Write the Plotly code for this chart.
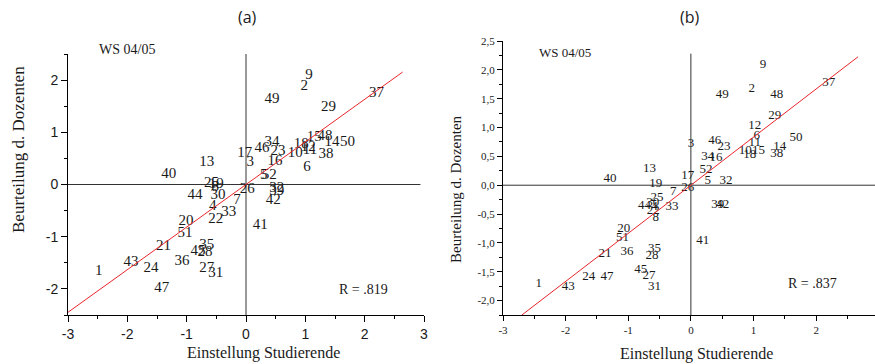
import plotly.graph_objects as go

# ---------------- data ----------------
labels = ["1", "2", "3", "4", "5", "6", "7", "8", "9", "10", "11", "12", "13",
          "14", "15", "16", "17", "18", "19", "20", "21", "22", "23", "24", "25", "26",
          "27", "28", "29", "30", "31", "32", "33", "34", "35", "36", "37", "38", "39",
          "40", "41", "42", "43", "44", "45", "46", "47", "48", "49", "50", "51", "52"]

# panel (a): Einstellung Studierende (x) vs Beurteilung d. Dozenten (y)
xa = [-2.48, 0.98, 0.07, -0.56, 0.30, 1.03, -0.15, -0.52, 1.06, 0.83, 1.08, 1.05, -0.66,
      1.45, 1.15, 0.49, -0.02, 0.93, -0.50, -1.01, -1.39, -0.51, 0.54, -1.60, -0.58, 0.02,
      -0.66, -0.69, 1.39, -0.47, -0.51, 0.52, -0.29, 0.44, -0.66, -1.08, 2.20, 1.35, 0.52,
      -1.30, 0.24, 0.46, -1.94, -0.86, -0.81, 0.27, -1.42, 1.33, 0.44, 1.71, -1.03, 0.39]
ya = [-1.66, 1.89, 0.43, -0.41, 0.18, 0.34, -0.30, -0.06, 2.10, 0.60, 0.66, 0.72, 0.43,
      0.80, 0.91, 0.45, 0.60, 0.78, 0.00, -0.70, -1.18, -0.66, 0.64, -1.60, 0.02, -0.09,
      -1.60, -1.29, 1.48, -0.20, -1.70, -0.08, -0.54, 0.81, -1.16, -1.47, 1.75, 0.58, -0.12,
      0.20, -0.79, -0.31, -1.49, -0.20, -1.27, 0.70, -1.98, 0.93, 1.64, 0.81, -0.93, 0.17]

# panel (b)
xb = [-2.43, 0.97, 0.00, -0.58, 0.27, 1.05, -0.28, -0.56, 1.15, 0.87, 1.02, 1.02, -0.66,
      1.42, 1.08, 0.40, -0.05, 0.94, -0.56, -1.07, -1.37, -0.60, 0.53, -1.63, -0.54, -0.05,
      -0.67, -0.62, 1.34, -0.61, -0.58, 0.56, -0.30, 0.27, -0.58, -1.02, 2.20, 1.37, 0.43,
      -1.29, 0.19, 0.51, -1.96, -0.74, -0.80, 0.38, -1.34, 1.37, 0.50, 1.68, -1.09, 0.24]
yb = [-1.71, 1.67, 0.72, -0.38, 0.08, 0.86, -0.12, -0.56, 2.09, 0.60, 0.74, 1.03, 0.28,
      0.67, 0.59, 0.48, 0.16, 0.52, 0.03, -0.76, -1.19, -0.45, 0.66, -1.59, -0.21, -0.04,
      -1.57, -1.22, 1.21, -0.31, -1.76, 0.07, -0.38, 0.50, -1.10, -1.16, 1.78, 0.54, -0.34,
      0.12, -0.96, -0.34, -1.76, -0.36, -1.47, 0.77, -1.59, 1.57, 1.57, 0.83, -0.91, 0.26]

# regression lines
slope_a = 0.816
slope_b = 0.834
fit_x_a = [-3.0, 2.64]
fit_x_b = [-2.70, 2.67]

r_text_a = "R = .819"
r_text_b = "R = .837"
semester = "WS 04/05"

# tick labels
xtick_a = [-3, -2, -1, 0, 1, 2, 3]
xtick_a_text = ["-3", "-2", "-1", "0", "1", "2", "3"]
ytick_a = [-2, -1, 0, 1, 2]
ytick_a_text = ["-2", "-1", "0", "1", "2"]
xtick_b = [-3, -2, -1, 0, 1, 2]
xtick_b_text = ["-3", "-2", "-1", "0", "1", "2"]
ytick_b = [-2.0, -1.5, -1.0, -0.5, 0.0, 0.5, 1.0, 1.5, 2.0, 2.5]
ytick_b_text = ["-2,0", "-1,5", "-1,0", "-0,5", "0,0", "0,5", "1,0", "1,5", "2,0", "2,5"]

# ---------------- figure ----------------
W, H = 875, 364


def fx(p):
    return p / W


def fy(p):
    return (H - p) / H


SERIF = "Liberation Serif, Times New Roman, serif"
SANS = "Liberation Sans, Arial, sans-serif"
TXT = "#1a1a1a"
RED = "#e8252b"

fig = go.Figure()

# labels as text marks
fig.add_trace(go.Scatter(x=xa, y=ya, text=labels, mode="text", textposition="middle center",
                         textfont=dict(family=SERIF, size=15, color=TXT),
                         xaxis="x", yaxis="y", cliponaxis=False, hoverinfo="skip"))
fig.add_trace(go.Scatter(x=xb, y=yb, text=labels, mode="text", textposition="middle center",
                         textfont=dict(family=SERIF, size=13, color=TXT),
                         xaxis="x2", yaxis="y2", cliponaxis=False, hoverinfo="skip"))

# regression lines
fig.add_trace(go.Scatter(x=fit_x_a, y=[slope_a * v for v in fit_x_a], mode="lines",
                         line=dict(color=RED, width=1), xaxis="x", yaxis="y", hoverinfo="skip"))
fig.add_trace(go.Scatter(x=fit_x_b, y=[slope_b * v for v in fit_x_b], mode="lines",
                         line=dict(color=RED, width=1), xaxis="x2", yaxis="y2", hoverinfo="skip"))

# cross-hair lines through origin
ZC = "#333333"
shapes = [
    dict(type="line", xref="x", yref="y", x0=-3, x1=2.94, y0=0, y1=0, line=dict(color=ZC, width=1), layer="below"),
    dict(type="line", xref="x", yref="y", x0=0, x1=0, y0=-2.5, y1=2.5, line=dict(color=ZC, width=1), layer="below"),
    dict(type="line", xref="x2", yref="y2", x0=-3, x1=2.94, y0=0, y1=0, line=dict(color=ZC, width=1), layer="below"),
    dict(type="line", xref="x2", yref="y2", x0=0, x1=0, y0=-2.25, y1=2.28, line=dict(color=ZC, width=1), layer="below"),
]

common_axis = dict(showline=True, linecolor="black", linewidth=1, ticks="outside",
                   tickcolor="black", ticklen=6, showgrid=False, zeroline=False,
                   tickmode="array", automargin=False)

fig.update_layout(
    width=W, height=H, margin=dict(l=0, r=0, t=0, b=0, pad=0, autoexpand=False),
    plot_bgcolor="white", paper_bgcolor="white", showlegend=False,
    shapes=shapes,
    xaxis=dict(common_axis, domain=[fx(68), fx(424)], range=[-3, 3], anchor="y",
               tickvals=xtick_a, ticktext=xtick_a_text,
               tickfont=dict(family=SANS, size=14, color=TXT),
               minor=dict(tickmode="linear", tick0=0, dtick=0.5, ticks="outside", ticklen=3,
                          tickcolor="black", showgrid=False)),
    yaxis=dict(common_axis, domain=[fy(315), fy(54)], range=[-2.5, 2.5], anchor="x",
               tickvals=ytick_a, ticktext=ytick_a_text,
               tickfont=dict(family=SANS, size=14, color=TXT),
               minor=dict(tickmode="linear", tick0=0, dtick=0.5, ticks="outside", ticklen=3,
                          tickcolor="black", showgrid=False)),
    xaxis2=dict(common_axis, domain=[fx(503), 1.0], range=[-3, 2.94], anchor="y2",
                tickvals=xtick_b, ticktext=xtick_b_text, ticklen=5,
                tickfont=dict(family=SERIF, size=11, color=TXT),
                minor=dict(tickmode="linear", tick0=0, dtick=0.5, ticks="outside", ticklen=3,
                           tickcolor="black", showgrid=False)),
    yaxis2=dict(common_axis, domain=[fy(315), fy(41)], range=[-2.25, 2.5], anchor="x2",
                tickvals=ytick_b, ticktext=ytick_b_text, ticklen=5,
                tickfont=dict(family=SERIF, size=11, color=TXT),
                minor=dict(tickmode="linear", tick0=0, dtick=0.25, ticks="outside", ticklen=3,
                           tickcolor="black", showgrid=False)),
)


def note(text, px_x, px_y, size, family=SERIF, angle=0):
    return dict(text=text, x=fx(px_x), y=fy(px_y), xref="paper", yref="paper",
                xanchor="center", yanchor="middle", showarrow=False, textangle=angle,
                font=dict(family=family, size=size, color=TXT))


ann = [
    note("(a)", 247, 17, 16, "Open Sans, sans-serif"),
    note("(b)", 690, 17, 16, "Open Sans, sans-serif"),
    note(semester, 127, 50, 14),
    note(semester, 565, 52, 13),
    note(r_text_a, 363, 289, 14),
    note(r_text_b, 812, 283, 14),
    note("Einstellung Studierende", 263, 353, 16),
    note("Einstellung Studierende", 696, 354, 16),
    note("Beurteilung d. Dozenten", 18, 150, 17, angle=-90),
    note("Beurteilung d. Dozenten", 456, 189, 15, angle=-90),
]
fig.update_layout(annotations=ann)

fig.write_html("out.html", config={"displayModeBar": False},
               post_script="document.body.style.margin='0px';document.body.style.overflow='hidden';")
